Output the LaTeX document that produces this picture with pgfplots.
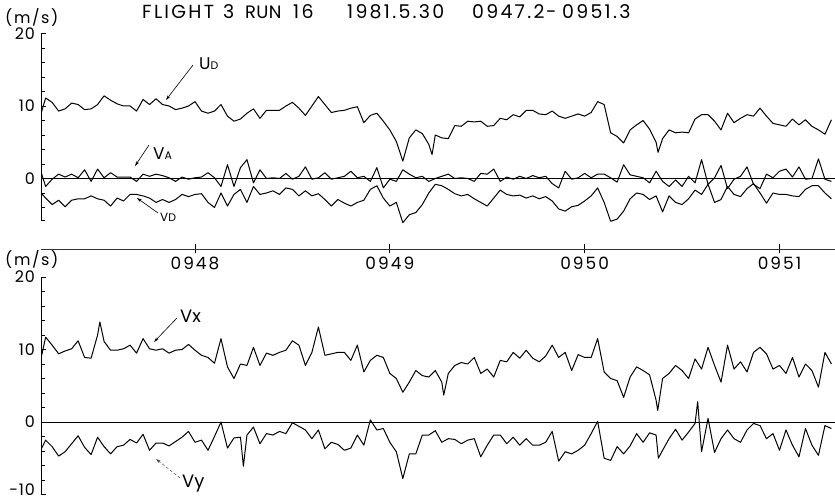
\documentclass[border=0pt]{standalone}
\usepackage{fontspec}
\setmainfont{Poppins}
\newfontfamily\wide{Poppins}[LetterSpace=12]
\newfontfamily\semiwide{Poppins}[LetterSpace=5]
\newfontfamily\mwide{Poppins}[LetterSpace=10]
\newfontfamily\tight{Poppins}[LetterSpace=2]
\usepackage{pgfplots}
\usepackage{pgfplotstable}
\pgfplotsset{compat=1.18}
\usetikzlibrary{arrows.meta}

% time in seconds after 09:47:00
\pgfplotstableread{
t ud va vd
12 8.1 1.7 -1.7
14 11.1 -1.1 -2.7
16 10.5 -0.1 -3.6
18 9.3 0.6 -3.0
20 9.6 0.2 -3.9
22 10.4 0.6 -3.0
24 10.2 0.1 -2.8
26 9.5 1.2 -2.8
28 9.6 -0.4 -2.4
30 10.2 1.3 -2.8
32 11.4 0.1 -3.0
34 10.8 0.8 -3.8
36 10.3 0.2 -2.7
38 10.0 0.2 -3.1
40 10.0 0.2 -2.2
42 9.3 -0.4 -2.2
44 10.9 0.6 -2.4
46 10.2 0.3 -2.7
48 11.0 0.6 -3.3
50 10.2 0.4 -2.9
52 10.0 0.1 -3.3
54 9.5 -0.4 -2.9
56 9.7 0.2 -2.2
58 10.0 -0.1 -2.5
60 10.6 0.1 -2.2
62 9.3 0.2 -2.1
64 9.0 0.8 -3.3
66 9.3 0.1 -4.0
68 10.2 -1.1 -2.0
70 8.6 1.9 -3.8
72 7.9 -1.1 -2.2
74 8.2 1.5 -1.5
76 9.0 2.6 -3.3
78 9.6 -0.6 -1.1
80 8.3 1.2 -2.2
82 9.4 0.0 -2.0
84 9.4 0.1 -1.7
86 9.4 0.0 -2.2
88 10.0 0.7 -1.3
90 10.5 -0.1 -1.5
92 9.7 0.3 -2.4
94 8.7 1.6 -1.7
96 10.0 -0.1 -2.4
98 11.3 0.1 -2.1
100 10.2 0.8 -2.9
102 9.1 -0.1 -3.8
104 9.3 0.1 -2.9
106 9.4 0.3 -3.4
108 9.7 1.0 -3.8
110 9.9 0.1 -3.3
112 7.7 0.3 -3.0
114 8.7 -0.4 -1.5
116 9.0 1.5 -1.0
118 7.9 -1.3 -2.7
120 6.7 -0.1 -3.8
122 5.1 -0.4 -3.3
124 2.4 1.2 -6.1
126 5.6 0.6 -5.0
128 6.7 0.1 -4.7
130 6.2 0.3 -3.6
132 4.7 -0.4 -2.0
133 3.3 nan nan
134 6.0 0.0 -0.8
136 5.6 0.3 -1.0
138 5.5 0.6 -1.5
140 7.3 0.0 -2.1
142 7.2 0.1 -2.4
144 7.9 0.0 -2.2
146 7.8 -0.4 -2.8
148 7.9 0.7 -3.3
150 7.2 0.6 -3.8
152 7.3 1.3 -2.7
154 8.3 -0.4 -1.6
156 8.1 0.2 -2.2
158 8.8 -0.1 -2.4
160 8.5 0.3 -2.3
162 9.4 0.0 -2.7
164 9.4 0.4 -2.4
166 8.9 0.1 -2.8
168 8.8 0.3 -2.5
170 9.3 -0.7 -3.1
172 8.6 -1.3 -4.2
174 8.3 1.0 -4.5
176 8.6 -0.1 -3.9
178 8.9 0.1 -3.7
180 8.6 0.7 -3.1
182 9.1 0.1 -2.4
184 10.6 0.6 -1.3
186 10.2 0.6 -3.3
188 6.3 0.1 -5.9
190 5.8 -0.5 -5.6
192 4.9 1.9 -4.5
194 6.7 0.5 -2.8
196 7.4 0.3 -2.0
198 8.0 0.1 -2.2
200 6.8 -0.6 -2.9
202 5.0 1.0 -2.4
202.6 3.6 nan nan
204 5.5 -0.4 -4.6
206 6.7 -1.1 -2.4
208 6.3 -0.2 -3.3
210 6.4 -1.1 -3.6
212 6.3 0.3 -2.8
214 8.2 -0.6 -1.6
216 8.8 2.6 -2.2
218 8.8 -0.8 -0.8
220 7.9 0.1 -3.3
222 6.7 1.8 -2.9
224 9.0 -1.4 -1.1
226 7.7 -0.1 -2.2
228 8.3 0.3 -2.5
230 8.8 1.6 -1.4
232 8.6 -0.8 -0.7
234 9.7 -1.4 -2.0
236 8.6 0.6 -3.4
238 7.6 0.1 -2.0
240 7.4 1.0 -2.2
242 7.2 1.3 -2.2
244 8.2 0.2 -2.4
246 7.4 1.6 -2.5
248 8.1 -0.1 -1.5
250 7.2 0.0 -1.0
252 6.7 2.7 -1.0
254 6.1 -0.1 -2.0
256 8.1 -0.4 -2.8
}\toptable

\pgfplotstableread{
t vx vy
12 7.6 -4.3
14 11.7 -2.5
16 10.6 -3.4
18 9.4 -4.7
20 9.8 -4.1
22 10.1 -3.0
24 11.2 -1.9
26 8.9 -3.5
28 8.8 -4.5
30 12.0 -2.1
30.7 13.8 nan
32 11.1 -3.4
34 9.9 -4.4
36 9.9 -3.4
38 10.1 -3.2
40 10.6 -2.4
42 9.5 -2.9
44 11.5 -1.7
46 10.1 -3.9
48 9.9 -2.9
50 10.1 -2.9
52 9.5 -3.3
54 9.9 -2.7
56 10.0 -2.1
58 10.7 -1.3
60 9.9 -2.8
62 9.2 -2.5
64 8.9 -3.9
66 8.1 -2.0
68 11.5 0.0
70 7.6 -3.6
72 6.0 -2.2
74 8.0 -2.1
74.9 nan -6.1
76 7.8 -1.8
78 10.3 -0.7
80 7.8 -3.0
82 9.5 -1.6
84 9.2 -1.8
86 9.6 -1.3
88 9.9 -1.6
90 11.2 -0.1
92 10.6 -0.6
94 7.8 -1.1
96 9.6 -2.3
98 13.1 -1.1
100 9.2 -3.7
102 9.4 -2.8
104 9.6 -3.1
106 9.6 -3.9
108 8.5 -3.6
110 10.6 -1.8
112 6.9 -3.2
114 8.5 0.3
116 9.2 -1.1
118 8.9 -0.9
120 6.7 -2.8
122 6.0 -4.1
124 4.1 -7.8
126 5.5 -4.4
128 7.1 -4.4
130 6.4 -1.8
132 6.2 -1.8
134 7.1 -1.2
136 5.5 -2.8
136.6 3.7 nan
138 6.7 -2.3
140 7.8 -2.4
142 8.2 -3.0
144 8.0 -2.5
146 8.9 -2.3
148 6.7 -4.8
150 7.3 -3.2
152 6.2 -1.8
154 8.5 -1.8
156 8.3 -3.0
158 9.6 -2.1
160 8.8 -3.2
162 9.9 -2.3
164 8.8 -3.2
166 8.3 -3.2
168 9.1 -2.8
170 10.6 -1.3
172 8.9 -5.4
174 9.6 -4.1
176 7.1 -4.4
178 9.3 -3.9
180 8.9 -3.2
182 8.9 -1.6
184 11.5 0.1
186 6.9 -5.0
188 6.0 -5.3
190 5.7 -3.4
192 3.4 -4.4
194 6.2 -3.3
196 7.6 -1.6
198 7.1 -2.8
200 6.5 -1.5
202 3.0 -1.8
202.5 1.6 nan
202.7 nan -5.0
204 6.0 -3.9
206 6.7 -2.3
208 7.8 -1.0
210 7.1 -2.5
212 6.0 -1.4
214 8.7 -0.2
214.8 nan 2.8
216 7.3 -4.1
218 10.3 0.5
220 7.8 -4.2
222 5.5 -2.3
224 10.6 -1.1
226 7.3 -2.3
228 8.3 -2.8
230 6.9 -1.1
232 9.6 -0.2
234 10.3 -0.5
236 9.4 -2.3
238 7.3 -1.6
240 7.8 -3.9
242 6.7 -1.1
244 8.9 -3.2
246 6.2 -4.8
248 8.0 -0.9
250 7.1 -3.2
252 4.8 -4.6
254 9.6 -0.5
256 8.0 -0.9
}\bottable

\pgfplotsset{
  panel/.style={
    scale only axis, width=794bp,
    xmin=12.57, xmax=257.1,
    axis x line=none, axis y line*=left,
    tick align=inside,
    major tick length=5bp, minor tick length=4bp,
    tick style={line width=0.7bp, black},
    axis line style={line width=0.8bp},
    yticklabel style={font=\semiwide\fontsize{16}{16}\selectfont, inner sep=0pt, xshift=-6bp},
  },
  dat/.style={black, line width=1bp, line join=round, no markers},
}

\begin{document}
\begin{tikzpicture}[x=1bp,y=1bp]
\useasboundingbox (0,0) rectangle (835,500);

% upper panel
\begin{axis}[panel, at={(41bp,270.75bp)}, anchor=south west,
  height=195.75bp, ymin=-7, ymax=20,
  y axis line style={draw=none},
  ytick={0,10,20}, yticklabels={0,10,20},
  minor ytick={-5.8,-4,-2,2,4,6,8,12,14,16,18}]
  \draw[line width=0.8bp] (axis cs:12.57,-5.8) -- (axis cs:12.57,20);
  \addplot[black, line width=0.5bp] coordinates {(12.57,0) (257.1,0)};
  \addplot[dat] table[x=t, y=ud] {\toptable};
  \addplot[dat] table[x=t, y=va] {\toptable};
  \addplot[dat] table[x=t, y=vd] {\toptable};
\end{axis}

% time axis
\begin{axis}[scale only axis, width=794bp, height=1bp,
  at={(41bp,251bp)}, anchor=south west,
  xmin=12.57, xmax=257.1, ymin=0, ymax=1,
  axis x line*=bottom, axis y line=none,
  axis line style={line width=0.7bp, black!80},
  xtick={60,120,180,240}, xticklabels={0948,0949,0950,0951},
  tick align=center, major tick length=9bp,
  tick style={line width=0.7bp, black},
  xticklabel style={font=\wide\fontsize{17}{17}\selectfont, inner sep=0pt, yshift=-3bp}]
\end{axis}

% lower panel
\begin{axis}[panel, at={(41bp,5.5bp)}, anchor=south west,
  height=217.5bp, ymin=-10, ymax=20,
  ytick={-10,0,10,20}, yticklabels={\smash{\raisebox{-1bp}{-10}},0,10,20},
  minor ytick={-8,-6,-4,-2,2,4,6,8,12,14,16,18}]
  \addplot[black, line width=0.6bp] coordinates {(12.57,0) (257.1,0)};
  \addplot[dat] table[x=t, y=vx] {\bottable};
  \addplot[dat] table[x=t, y=vy] {\bottable};
\end{axis}

% titles and units
\begin{scope}[every node/.style={anchor=base west, inner sep=0pt, font=\wide\fontsize{19}{19}\selectfont}]
\node at (142,481.5) {FLIGHT};
\node at (223,481.5) {3};
\node[font=\tight\fontsize{18}{18}\selectfont] at (245,481.5) {RUN};
\node at (293,481.5) {16};
\node at (347,481.5) {1981.5.30};
\node at (472,481.5) {0947.2};
\node at (546,481.5) {-};
\node at (562,481.5) {0951.3};
\end{scope}
\node[anchor=west, inner sep=0pt, font=\mwide\fontsize{16}{16}\selectfont] at (5,482.5) {(m/s)};
\node[anchor=west, inner sep=0pt, font=\mwide\fontsize{16}{16}\selectfont] at (5,241) {(m/s)};

% series labels
\node[anchor=west, inner sep=0pt] at (199,436) {{\fontsize{17}{17}\selectfont U}{\fontsize{11}{11}\selectfont D}};
\draw[line width=0.6bp, -{Stealth[length=5bp,width=3bp]}] (193,435) -- (166,400);
\node[anchor=west, inner sep=0pt] at (153,346) {{\fontsize{17}{17}\selectfont V}{\fontsize{11}{11}\selectfont A}};
\draw[line width=0.6bp, -{Stealth[length=5bp,width=3bp]}] (149,355) -- (135,334);
\node[anchor=west, inner sep=0pt] at (160,283) {{\fontsize{12}{12}\selectfont V}{\fontsize{11}{11}\selectfont D}};
\draw[line width=0.6bp, -{Stealth[length=5bp,width=3bp]}] (158,287) -- (137,302);
\node[anchor=west, inner sep=0pt, font=\fontsize{18}{18}\selectfont] at (180,184) {Vx};
\draw[line width=0.6bp, -{Stealth[length=5bp,width=3bp]}] (177,182) -- (154,158);
\node[anchor=west, inner sep=0pt, font=\fontsize{18}{18}\selectfont] at (182,16) {Vy};
\draw[line width=0.5bp, densely dashed, black!70, -{Stealth[length=5bp,width=3bp]}] (180,22) -- (156,41);
\end{tikzpicture}
\end{document}
